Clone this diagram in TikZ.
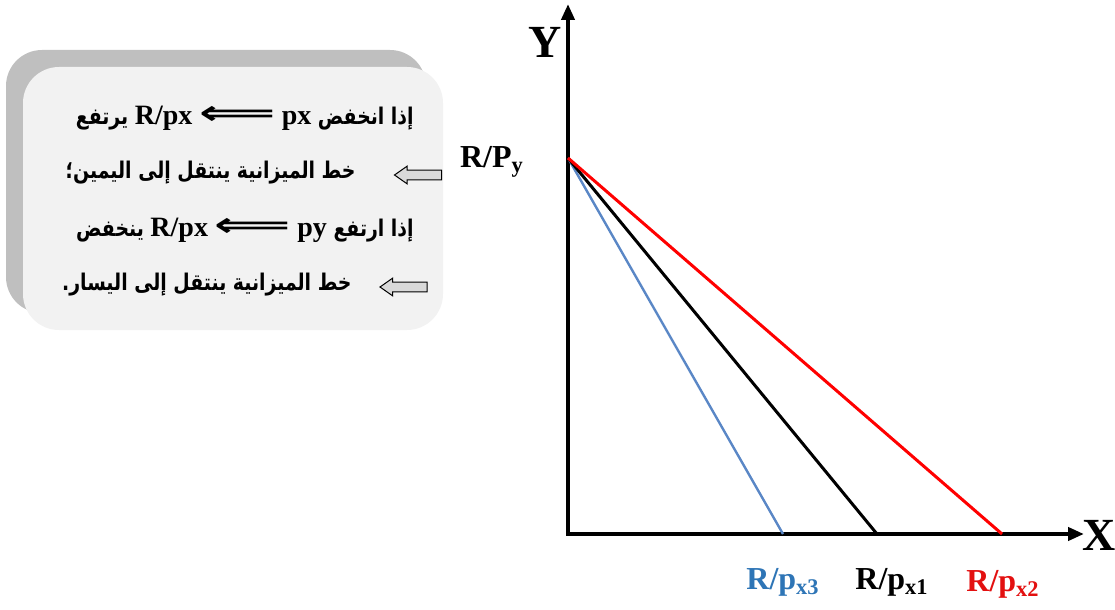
\documentclass[tikz,border=0pt]{standalone}
\usepackage{graphicx}
\usepackage{fontspec}
\setmainfont{Liberation Serif}
\newfontfamily\arabicfont[Script=Arabic,FakeStretch=0.82]{DejaVu Sans}
\newfontfamily\latinfont{Liberation Serif}
\newfontfamily\symfont{DejaVu Sans}
\TeXXeTstate=1
\usetikzlibrary{arrows.meta,shapes.arrows,shadows}

\definecolor{panelgray}{HTML}{F2F2F2}
\definecolor{shadowgray}{HTML}{BFBFBF}
\definecolor{arrowgray}{HTML}{D9D9D9}
\definecolor{linered}{HTML}{FF0000}
\definecolor{lineblue}{HTML}{5A87C6}
\definecolor{labelblue}{HTML}{2E75B6}
\definecolor{labelred}{HTML}{E31010}

% latin piece inside a right-to-left line
\newcommand{\lat}[1]{\beginL{\latinfont\fontsize{14}{15}\selectfont\bfseries #1}\endL{}}
\newcommand{\implarrow}{\beginL\scalebox{1.9}[1.2]{\symfont\fontsize{14}{14}\selectfont ⟸}\endL{}}

\begin{document}
\begin{tikzpicture}[
    x=0.5pt, y=-0.5pt,
    axis/.style={line width=2pt, -{Triangle[length=8pt,width=6.5pt]}},
    budget/.style={line width=1.5pt},
    axislabel/.style={font=\fontsize{23}{25}\selectfont\bfseries, inner sep=0pt},
    interlabel/.style={font=\fontsize{16}{18}\selectfont\bfseries, inner sep=0pt},
    panel/.style={rounded corners=18pt, fill=panelgray, minimum width=210pt, minimum height=131.5pt,
        drop shadow={shadow xshift=-8.5pt, shadow yshift=8.5pt, fill=shadowgray, opacity=1}},
    rtlline/.style={anchor=east, inner sep=0pt, font=\fontsize{11.5}{13}\selectfont\bfseries},
    grayarrow/.style={single arrow, shape border rotate=180, draw=black, line width=0.5pt, fill=arrowgray,
        inner sep=2.2pt, minimum height=23.5pt, single arrow head extend=2pt, single arrow tip angle=70}
]
    \useasboundingbox (0,0) rectangle (1115,610);

    % axes
    \coordinate (origin) at (568,534);
    \coordinate (ytip) at (568,4);
    \coordinate (xtip) at (1084,534);
    \draw[axis] (origin) -- (ytip);
    \draw[axis] ([xshift=-1pt]origin) -- (xtip);
    \node[axislabel] (ylab) at (545,42) {Y};
    \node[axislabel] (xlab) at (1099,535) {X};

    % budget lines
    \coordinate (yint) at (568,158);
    \coordinate (x3) at (783,534);
    \coordinate (x1) at (877,534);
    \coordinate (x2) at (1002,534);
    \draw[budget, lineblue, line width=1.2pt] (yint) -- (x3);
    \draw[budget, black] (yint) -- (x1);
    \draw[budget, linered] (yint) -- (x2);

    \node[interlabel] (ylevel) at (492,162) {R/P\textsubscript{y}};
    \node[interlabel, text=labelblue] (lab3) at (783,582) {R/p\textsubscript{x3}};
    \node[interlabel] (lab1) at (892,582) {R/p\textsubscript{x1}};
    \node[interlabel, text=labelred] (lab2) at (1003,584) {R/p\textsubscript{x2}};

    % text panel
    \node[panel] (panel) at (233,198.5) {};
    \node[rtlline] (line1) at (414,118) {\arabicfont\beginR إذا انخفض \lat{px} \implarrow{} \lat{R/px} يرتفع\endR};
    \node[rtlline] (line2) at (356,173) {\arabicfont\beginR خط الميزانية ينتقل إلى اليمين؛\endR};
    \node[grayarrow] (arr2) at (421.5,175) {};
    \node[rtlline] (line3) at (414,230) {\arabicfont\beginR إذا ارتفع \lat{py} \implarrow{} \lat{R/px} ينخفض\endR};
    \node[rtlline] (line4) at (352,285) {\arabicfont\beginR خط الميزانية ينتقل إلى اليسار.\endR};
    \node[grayarrow] (arr4) at (407,287) {};
\end{tikzpicture}
\end{document}
